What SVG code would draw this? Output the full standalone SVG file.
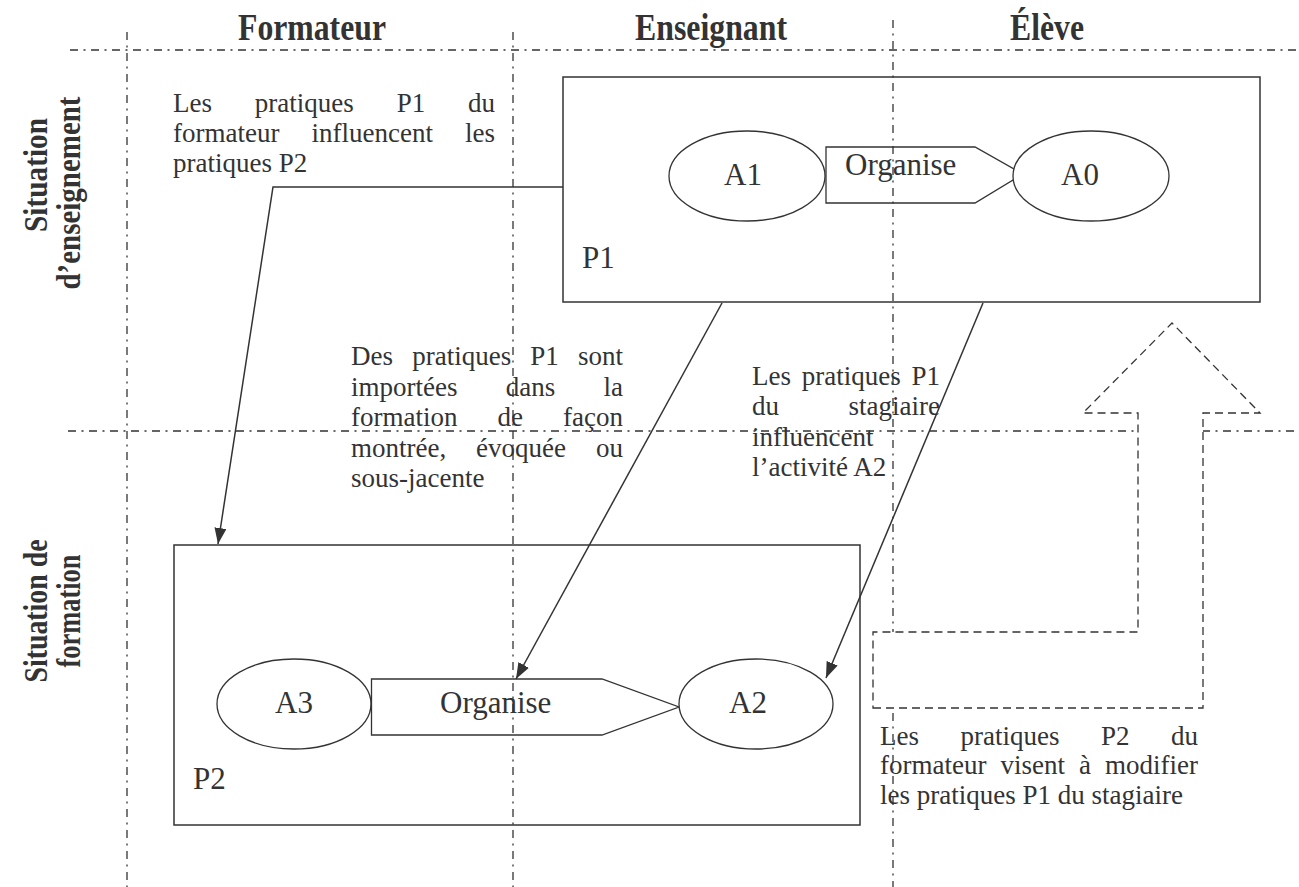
<svg xmlns="http://www.w3.org/2000/svg" width="1299" height="887" viewBox="0 0 1299 887">
<defs>
<style>
.t{font-family:"Liberation Serif","Times New Roman",serif;font-size:27px;fill:#333}
.h{font-family:"Liberation Serif","Times New Roman",serif;font-size:37px;font-weight:bold;fill:#333}
.v{font-family:"Liberation Serif","Times New Roman",serif;font-size:34px;font-weight:bold;fill:#333}
.n{font-family:"Liberation Serif","Times New Roman",serif;font-size:31px;fill:#333}
.box{fill:none;stroke:#333;stroke-width:1.5}
.shape{fill:#fff;stroke:#333;stroke-width:1.3}
.dd{fill:none;stroke:#333;stroke-width:1.3;stroke-dasharray:8 5.5 2 5.5}
.dash{fill:#fff;stroke:#333;stroke-width:1.3;stroke-dasharray:8 5}
.con{fill:none;stroke:#333;stroke-width:1.5}
</style>
<marker id="ah" markerUnits="userSpaceOnUse" viewBox="0 0 16 12" refX="16" refY="6" markerWidth="16" markerHeight="12" orient="auto">
<path d="M0,0 L16,6 L0,12 z" fill="#333"/>
</marker>
</defs>
<rect width="1299" height="887" fill="#fff"/>

<g id="headers">
<text class="h" x="238" y="40" textLength="148" lengthAdjust="spacingAndGlyphs">Formateur</text>
<text class="h" x="635" y="40" textLength="152" lengthAdjust="spacingAndGlyphs">Enseignant</text>
<text class="h" x="1010" y="40" textLength="74" lengthAdjust="spacingAndGlyphs">Élève</text>
<text class="v" transform="translate(47,175) rotate(-90)" text-anchor="middle" textLength="114" lengthAdjust="spacingAndGlyphs">Situation</text>
<text class="v" transform="translate(80,193) rotate(-90)" text-anchor="middle" textLength="193" lengthAdjust="spacingAndGlyphs">d’enseignement</text>
<text class="v" transform="translate(47,611) rotate(-90)" text-anchor="middle" textLength="143" lengthAdjust="spacingAndGlyphs">Situation de</text>
<text class="v" transform="translate(80,611) rotate(-90)" text-anchor="middle" textLength="113" lengthAdjust="spacingAndGlyphs">formation</text>
</g>

<g id="txt-formateur">
<text class="t" y="112"><tspan x="173">Les</tspan><tspan x="254.8">pratiques</tspan><tspan x="396.7">P1</tspan><tspan x="468">du</tspan></text>
<text class="t" y="142"><tspan x="173">formateur</tspan><tspan x="311.5">influencent</tspan><tspan x="465">les</tspan></text>
<text class="t" x="173" y="172">pratiques P2</text>
</g>

<g id="txt-importees">
<text class="t" y="365"><tspan x="351">Des</tspan><tspan x="412.2">pratiques</tspan><tspan x="530.3">P1</tspan><tspan x="578">sont</tspan></text>
<text class="t" y="395.5"><tspan x="351">importées</tspan><tspan x="505.8">dans</tspan><tspan x="603.5">la</tspan></text>
<text class="t" y="426"><tspan x="351">formation</tspan><tspan x="497.5">de</tspan><tspan x="563">façon</tspan></text>
<text class="t" y="456.5"><tspan x="351">montrée,</tspan><tspan x="476.1">évoquée</tspan><tspan x="596">ou</tspan></text>
<text class="t" x="351" y="487">sous-jacente</text>
</g>

<g id="txt-stagiaire">
<text class="t" y="385"><tspan x="752">Les</tspan><tspan x="801.8">pratiques</tspan><tspan x="911.5">P1</tspan></text>
<text class="t" y="415"><tspan x="752">du</tspan><tspan x="848.5">stagiaire</tspan></text>
<text class="t" x="752" y="446">influencent</text>
<text class="t" x="752" y="476">l’activité A2</text>
</g>

<g id="txt-modifier">
<text class="t" y="745"><tspan x="880">Les</tspan><tspan x="960.5">pratiques</tspan><tspan x="1101">P2</tspan><tspan x="1171">du</tspan></text>
<text class="t" y="774"><tspan x="880">formateur</tspan><tspan x="1000.5">visent</tspan><tspan x="1079">à</tspan><tspan x="1105">modifier</tspan></text>
<text class="t" x="880" y="804">les pratiques P1 du stagiaire</text>
</g>

<g id="P1">
<rect class="box" x="563" y="77" width="697" height="225"/>
<text class="n" x="582" y="268">P1</text>
</g>
<g id="A1">
<ellipse class="shape" cx="747" cy="176" rx="78" ry="45"/>
<text class="n" x="743" y="185" text-anchor="middle">A1</text>
</g>
<g id="organise1">
<polygon class="shape" points="826,147 975,147 1023,174 975,203 826,203"/>
</g>
<g id="A0">
<ellipse class="shape" cx="1091" cy="176" rx="78" ry="45"/>
<text class="n" x="1080" y="185" text-anchor="middle">A0</text>
</g>
<text class="n" x="845" y="175">Organise</text>

<g id="P2">
<rect class="box" x="174" y="545" width="686" height="280"/>
<text class="n" x="193" y="789">P2</text>
</g>
<g id="A3">
<ellipse class="shape" cx="294" cy="704" rx="77" ry="45"/>
<text class="n" x="294" y="713" text-anchor="middle">A3</text>
</g>
<g id="organise2">
<polygon class="shape" points="371.5,679 602,679 679,707 602,735 371.5,735"/>
<text class="n" x="440" y="713">Organise</text>
</g>
<g id="A2">
<ellipse class="shape" cx="756" cy="704" rx="77" ry="45"/>
<text class="n" x="748" y="713" text-anchor="middle">A2</text>
</g>

<g id="grid">
<line class="dd" x1="70" y1="50" x2="1299" y2="50"/>
<line class="dd" x1="68" y1="431" x2="1299" y2="431"/>
<line class="dd" x1="127" y1="32" x2="127" y2="887"/>
<line class="dd" x1="513" y1="32" x2="513" y2="887"/>
<line class="dd" x1="893" y1="20" x2="893" y2="887"/>
</g>

<g id="dashed-arrow">
<polygon class="dash" points="873,708 1203,708 1203,413 1260,413 1172,323 1083,413 1138,413 1138,632 873,632"/>
</g>

<g id="connectors">
<polyline class="con" points="563,187 273,187 218,544" marker-end="url(#ah)"/>
<line class="con" x1="722" y1="303" x2="516" y2="679" marker-end="url(#ah)"/>
<line class="con" x1="983" y1="303" x2="826" y2="678" marker-end="url(#ah)"/>
</g>
</svg>
